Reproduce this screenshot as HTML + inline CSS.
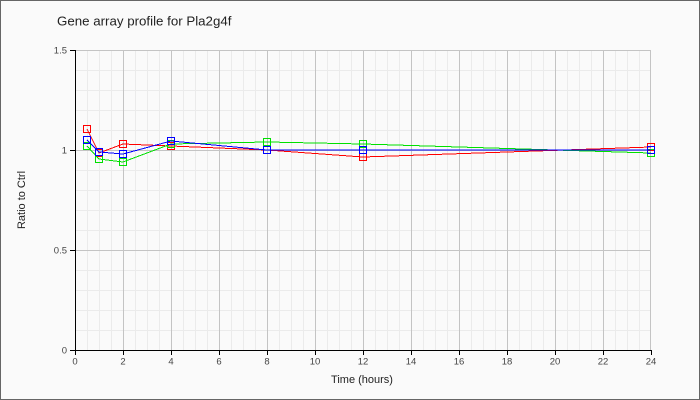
<!DOCTYPE html>
<html><head><meta charset="utf-8"><style>
html,body{margin:0;padding:0;background:#fafafa;}
svg{display:block;}
text{font-family:"Liberation Sans",Arial,sans-serif;}
</style></head><body>
<svg width="700" height="400" viewBox="0 0 700 400" xmlns="http://www.w3.org/2000/svg">
<rect x="0" y="0" width="700" height="400" fill="#fafafa"/>
<rect x="0.5" y="0.5" width="699" height="399" fill="none" stroke="#666" stroke-width="1"/>
<!-- minor grid -->
<path shape-rendering="crispEdges" stroke="#ebebeb" stroke-width="1" fill="none" d="
M87.5 50V350M99.5 50V350M111.5 50V350M135.5 50V350M147.5 50V350M159.5 50V350
M183.5 50V350M195.5 50V350M207.5 50V350M231.5 50V350M243.5 50V350M255.5 50V350
M279.5 50V350M291.5 50V350M303.5 50V350M327.5 50V350M339.5 50V350M351.5 50V350
M375.5 50V350M387.5 50V350M399.5 50V350M423.5 50V350M435.5 50V350M447.5 50V350
M471.5 50V350M483.5 50V350M495.5 50V350M519.5 50V350M531.5 50V350M543.5 50V350
M567.5 50V350M579.5 50V350M591.5 50V350M615.5 50V350M627.5 50V350M639.5 50V350
M75 70.5H651M75 90.5H651M75 110.5H651M75 130.5H651
M75 170.5H651M75 190.5H651M75 210.5H651M75 230.5H651
M75 270.5H651M75 290.5H651M75 310.5H651M75 330.5H651"/>
<!-- major grid -->
<path shape-rendering="crispEdges" stroke="#c4c4c4" stroke-width="1" fill="none" d="
M123.5 50V350M171.5 50V350M219.5 50V350M267.5 50V350M315.5 50V350M363.5 50V350
M411.5 50V350M459.5 50V350M507.5 50V350M555.5 50V350M603.5 50V350M650.5 50V350
M75 50.5H651M75 150.5H651M75 250.5H651"/>
<!-- axes -->
<path shape-rendering="crispEdges" stroke="#000" stroke-width="1" fill="none" d="
M75.5 50V355M70 350.5H651
M70 50.5H75M70 150.5H75M70 250.5H75
M123.5 350V355M171.5 350V355M219.5 350V355M267.5 350V355M315.5 350V355M363.5 350V355
M411.5 350V355M459.5 350V355M507.5 350V355M555.5 350V355M603.5 350V355M651.5 350V355"/>
<!-- tick labels -->
<g font-size="9.5" fill="#444" text-anchor="end">
<text x="67" y="53.5">1.5</text>
<text x="67" y="153.5">1</text>
<text x="67" y="253.5">0.5</text>
<text x="67" y="353.5">0</text>
</g>
<g font-size="9.5" fill="#444" text-anchor="middle">
<text x="75" y="364.5">0</text>
<text x="123" y="364.5">2</text>
<text x="171" y="364.5">4</text>
<text x="219" y="364.5">6</text>
<text x="267" y="364.5">8</text>
<text x="315" y="364.5">10</text>
<text x="363" y="364.5">12</text>
<text x="411" y="364.5">14</text>
<text x="459" y="364.5">16</text>
<text x="507" y="364.5">18</text>
<text x="555" y="364.5">20</text>
<text x="603" y="364.5">22</text>
<text x="651" y="364.5">24</text>
</g>
<text x="57" y="25.5" font-size="13.3" fill="#222">Gene array profile for Pla2g4f</text>
<text x="362" y="383" font-size="11" fill="#222" text-anchor="middle">Time (hours)</text>
<text transform="translate(25,200) rotate(-90)" x="0" y="0" font-size="11" fill="#222" text-anchor="middle">Ratio to Ctrl</text>
<!-- series -->
<g fill="none" stroke-width="1" shape-rendering="crispEdges">
<polyline stroke="#ff0000" points="87,129 99,153 123,144 171,146 267,150 363,157 651,147"/>
<g stroke="#ff0000" stroke-width="1">
<rect x="83.5" y="125.5" width="7" height="7"/>
<rect x="95.5" y="149.5" width="7" height="7"/>
<rect x="119.5" y="140.5" width="7" height="7"/>
<rect x="167.5" y="142.5" width="7" height="7"/>
<rect x="263.5" y="146.5" width="7" height="7"/>
<rect x="359.5" y="153.5" width="7" height="7"/>
<rect x="647.5" y="143.5" width="7" height="7"/>
</g>
<polyline stroke="#00e000" points="87,146 99,159 123,162 171,144 267,142 363,144 651,153"/>
<g stroke="#00e000" stroke-width="1">
<rect x="83.5" y="142.5" width="7" height="7"/>
<rect x="95.5" y="155.5" width="7" height="7"/>
<rect x="119.5" y="158.5" width="7" height="7"/>
<rect x="167.5" y="140.5" width="7" height="7"/>
<rect x="263.5" y="138.5" width="7" height="7"/>
<rect x="359.5" y="140.5" width="7" height="7"/>
<rect x="647.5" y="149.5" width="7" height="7"/>
</g>
<polyline stroke="#0000ff" points="87,140 99,152 123,154 171,141 267,150 363,150 651,150"/>
<g stroke="#0000ff" stroke-width="1">
<rect x="83.5" y="136.5" width="7" height="7"/>
<rect x="95.5" y="148.5" width="7" height="7"/>
<rect x="119.5" y="150.5" width="7" height="7"/>
<rect x="167.5" y="137.5" width="7" height="7"/>
<rect x="263.5" y="146.5" width="7" height="7"/>
<rect x="359.5" y="146.5" width="7" height="7"/>
<rect x="647.5" y="146.5" width="7" height="7"/>
</g>
</g>
</svg>
</body></html>
